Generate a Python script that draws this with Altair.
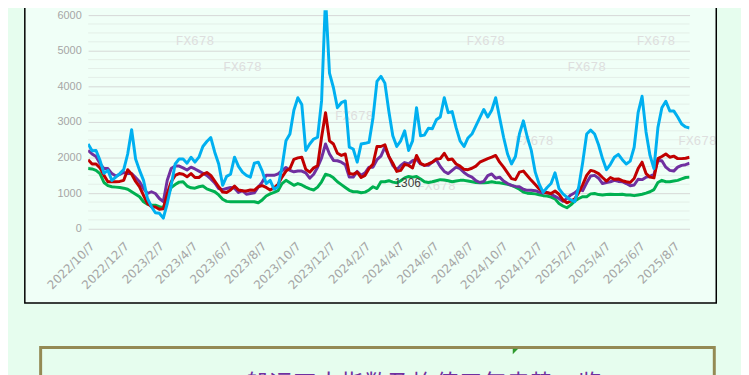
import altair as alt
import pandas as pd

alt.data_transformers.disable_max_rows()

# weekly samples from 2022-10-07
START = "2022-10-07"
N_POINTS = 153
dates = pd.date_range(START, periods=N_POINTS, freq="7D")

cyan_vals = [
    2380, 2190, 2200, 1920, 1560, 1640, 1360, 1450, 1550, 1660, 2100, 2780, 1960, 1640, 1360, 850, 620, 450, 435, 300,
    710, 1220, 1820, 1960, 1960, 1840, 2010, 1870, 2010, 2310, 2450, 2560, 2150, 1820, 1220, 1470, 1530, 2010, 1750,
    1590, 1500, 1450, 1840, 1870, 1620, 1270, 1360, 1110, 1180, 1730, 2470, 2660, 3330, 3680, 3490, 2200, 2380, 2520,
    2570, 3590, 6500, 4370, 3960, 3400, 3540, 3590, 2290, 2240, 1870, 2380, 2400, 2430, 3120, 4140, 4280, 4090, 3300,
    2610, 2310, 2470, 2750, 2200, 2470, 3400, 2610, 2630, 2820, 2810, 3060, 3140, 3680, 3260, 3290, 2840, 2470, 2310,
    2550, 2660, 2890, 3120, 3350, 3140, 3330, 3680, 3120, 2570, 2100, 1820, 2030, 2660, 3030, 2570, 2200, 1590, 1250,
    1020, 1160, 1270, 1570, 1130, 980, 890, 810, 760, 1180, 1870, 2660, 2770, 2660, 2360, 1970, 1660, 1810, 2010,
    2090, 1940, 1820, 1900, 2290, 3260, 3720, 2720, 2060, 1690, 2840, 3400, 3580, 3310, 3310, 3140, 2940, 2860, 2830,
]
red_vals = [
    1940, 1820, 1820, 1710, 1500, 1320, 1320, 1320, 1330, 1360, 1660, 1530, 1330, 1180, 940, 710, 620, 610, 550, 560,
    990, 1320, 1500, 1550, 1530, 1460, 1550, 1440, 1440, 1530, 1580, 1500, 1340, 1180, 1030, 1020, 1090, 1200, 1090,
    1070, 1060, 1090, 1080, 1180, 1210, 1160, 1090, 1150, 1250, 1450, 1620, 1690, 1950, 1990, 2010, 1670, 1590, 1710,
    1770, 2570, 3260, 2470, 2380, 2120, 2060, 2100, 1550, 1530, 1590, 1440, 1500, 1690, 1820, 2310, 2310, 2360, 2030,
    1840, 1610, 1640, 1810, 1780, 1710, 2060, 1840, 1780, 1820, 1870, 1960, 1970, 2120, 1940, 1960, 1820, 1760, 1670,
    1660, 1700, 1760, 1870, 1920, 1970, 2010, 2060, 1870, 1730, 1570, 1410, 1380, 1590, 1620, 1490, 1360, 1240, 1120,
    1040, 1010, 990, 1060, 970, 810, 730, 780, 840, 1020, 1240, 1500, 1640, 1610, 1550, 1440, 1340, 1440, 1390,
    1400, 1350, 1320, 1300, 1410, 1690, 1870, 1550, 1450, 1430, 1970, 2030, 2100, 2010, 2040, 1970, 1970, 1980, 2010,
]
purple_vals = [
    2200, 2100, 2030, 1830, 1690, 1690, 1550, 1480, 1530, 1580, 1550, 1550, 1440, 1320, 1130, 990, 1040, 990, 850, 760,
    1360, 1690, 1760, 1760, 1710, 1650, 1730, 1680, 1620, 1560, 1500, 1400, 1290, 1130, 1100, 1130, 1160, 1140, 1020,
    1070, 970, 990, 1010, 1170, 1310, 1500, 1500, 1500, 1540, 1630, 1720, 1640, 1600, 1620, 1620, 1570, 1420, 1530,
    1730, 1990, 2380, 2100, 1920, 1910, 1870, 1800, 1450, 1450, 1610, 1500, 1570, 1730, 1730, 1940, 2040, 2290, 2030,
    1780, 1660, 1780, 1860, 1820, 1910, 1950, 1820, 1780, 1780, 1870, 1940, 1750, 1610, 1550, 1640, 1730, 1690, 1580,
    1500, 1450, 1350, 1300, 1330, 1490, 1540, 1420, 1450, 1340, 1270, 1220, 1190, 1180, 1110, 1080, 1080, 1070, 1030,
    1000, 1020, 970, 910, 850, 770, 850, 950, 1010, 1110, 1070, 1290, 1480, 1500, 1420, 1270, 1300, 1320, 1360,
    1330, 1320, 1270, 1210, 1230, 1390, 1380, 1450, 1470, 1530, 1920, 1910, 1730, 1640, 1620, 1730, 1780, 1800, 1840,
]
green_vals = [
    1690, 1680, 1640, 1550, 1300, 1210, 1180, 1170, 1160, 1140, 1110, 1040, 970, 900, 760, 690, 670, 660, 620, 590,
    900, 1160, 1240, 1310, 1320, 1200, 1150, 1140, 1180, 1200, 1120, 1080, 1040, 950, 830, 770, 760, 760, 760,
    760, 760, 760, 760, 730, 810, 920, 980, 1020, 1070, 1270, 1360, 1290, 1220, 1270, 1230, 1170, 1120, 1090,
    1170, 1320, 1530, 1500, 1430, 1320, 1240, 1160, 1080, 1040, 1040, 1010, 1030, 1090, 1180, 1130, 1320, 1320, 1350,
    1310, 1290, 1350, 1430, 1470, 1450, 1470, 1400, 1320, 1300, 1320, 1350, 1380, 1370, 1350, 1320, 1340, 1360, 1360,
    1340, 1320, 1300, 1290, 1290, 1300, 1320, 1300, 1290, 1270, 1250, 1220, 1170, 1110, 1030, 1000, 990, 980, 955,
    930, 920, 890, 840, 710, 640, 590, 670, 780, 850, 900, 900, 980, 990, 960, 950, 960, 970, 960,
    960, 970, 950, 950, 930, 950, 970, 1000, 1040, 1100, 1300, 1360, 1320, 1320, 1340, 1360, 1400, 1440, 1450,
]

series_names = ["BHSI", "BPI", "BDI", "BCI"]          # drawing order (bottom -> top)
series_values = [green_vals, purple_vals, red_vals, cyan_vals]
series_colors = ["#00b050", "#7030a0", "#c00000", "#00b0f0"]

y_major = [0, 1000, 2000, 3000, 4000, 5000, 6000]
y_minor = [250, 500, 750, 1250, 1500, 1750, 2250, 2500, 2750, 3250, 3500, 3750,
           4250, 4500, 4750, 5250, 5500, 5750]
x_tick_months = [(2022, 10), (2022, 12), (2023, 2), (2023, 4), (2023, 6), (2023, 8),
                 (2023, 10), (2023, 12), (2024, 2), (2024, 4), (2024, 6), (2024, 8),
                 (2024, 10), (2024, 12), (2025, 2), (2025, 4), (2025, 6), (2025, 8)]

title_text = "船运四大指数及均值三年走势一览"
point_label = "1306"
watermark = "FX678"
wm_x = [108, 156, 269, 402, 504, 574, 616, 451, 352]
wm_y = [31, 57, 107, 31, 57, 31, 132, 132, 178]

OUTER = "#e6fdee"
PANEL = "#f0fff7"
LABEL_GRAY = "#a6a6a6"

x_scale = alt.Scale(domain=[alt.DateTime(year=2022, month=10, date=7),
                            alt.DateTime(year=2025, month=9, date=5)])
y_scale = alt.Scale(domain=[0, 6139], nice=False, zero=True)

x_enc = alt.X("date:T", scale=x_scale,
              axis=alt.Axis(values=[alt.DateTime(year=y, month=m, date=7) for y, m in x_tick_months],
                            format="%Y/%-m/%-d", labelAngle=-45, labelAlign="right",
                            labelBaseline="middle", labelColor=LABEL_GRAY, labelFont="DejaVu Sans",
                            labelFontSize=12, labelPadding=15, labelOffset=4, ticks=False, domain=False,
                            grid=False, title=None, labelOverlap=False))
y_enc = alt.Y("value:Q", scale=y_scale,
              axis=alt.Axis(values=y_major, format="d", labelColor=LABEL_GRAY, labelFont="Liberation Sans",
                            labelFontSize=11, labelPadding=7, ticks=False, domain=False,
                            gridColor="#d6d9d7", gridWidth=1, title=None))

one = pd.DataFrame({"a": [0]})

# outer (page) strips around the panel
outer_left = alt.Chart(one).mark_rect(fill=OUTER).encode(
    x=alt.value(-81), x2=alt.value(-64), y=alt.value(-10), y2=alt.value(400))
outer_right = alt.Chart(one).mark_rect(fill=OUTER).encode(
    x=alt.value(635), x2=alt.value(660), y=alt.value(-10), y2=alt.value(400))
outer_bottom = alt.Chart(one).mark_rect(fill=OUTER).encode(
    x=alt.value(-81), x2=alt.value(660), y=alt.value(296), y2=alt.value(400))
panel_border = alt.Chart(one).mark_rect(fillOpacity=0, stroke="black", strokeWidth=1.5).encode(
    x=alt.value(-64), x2=alt.value(635), y=alt.value(-20), y2=alt.value(296))
box = alt.Chart(one).mark_rect(fillOpacity=0, stroke="#948a54", strokeWidth=3).encode(
    x=alt.value(-48), x2=alt.value(633), y=alt.value(341), y2=alt.value(430))

minor_grid = alt.Chart(pd.DataFrame({"value": y_minor})).mark_rule(
    color="#e4efe8", strokeWidth=1).encode(y=y_enc)

wm = alt.Chart(pd.DataFrame({"px": wm_x, "py": wm_y, "t": [watermark] * len(wm_x)})).mark_text(
    font="Liberation Mono", fontSize=13, color="#dedede", align="center", baseline="middle").encode(
    x=alt.X("px:Q", scale=None), y=alt.Y("py:Q", scale=None), text="t:N")

line_layers = []
for name, vals, col in zip(series_names, series_values, series_colors):
    d = pd.DataFrame({"date": dates, "value": vals, "series": name})
    line_layers.append(
        alt.Chart(d).mark_line(color=col, strokeWidth=3, clip=True, strokeJoin="round").encode(
            x=x_enc, y=y_enc))

lbl = alt.Chart(one).mark_text(text=point_label, font="Liberation Sans", fontSize=12,
                               color="#404040", align="center", baseline="middle").encode(
    x=alt.value(323), y=alt.value(175))

title = alt.Chart(one).mark_text(text=title_text, font="Noto Sans CJK SC", fontSize=24,
                                 color="#7030a0", align="center", baseline="alphabetic").encode(
    x=alt.value(339), y=alt.value(386))

marker = alt.Chart(one).mark_point(shape="M -1 -1 L 1 -1 L -1 1 Z", size=30, filled=True,
                                   color="#2e9a2e", opacity=1).encode(
    x=alt.value(432), y=alt.value(345))

chart = alt.layer(
    outer_left, outer_right, outer_bottom, minor_grid, wm, *line_layers,
    panel_border, box, lbl, title, marker
).properties(
    width=608, height=221,
    autosize=alt.AutoSizeParams(type="none"),
    padding={"left": 81, "top": 0, "right": 52, "bottom": 179},
    background=PANEL,
).configure_view(stroke=None)

chart.save("out.html", embed_options={"renderer": "svg", "actions": False})
